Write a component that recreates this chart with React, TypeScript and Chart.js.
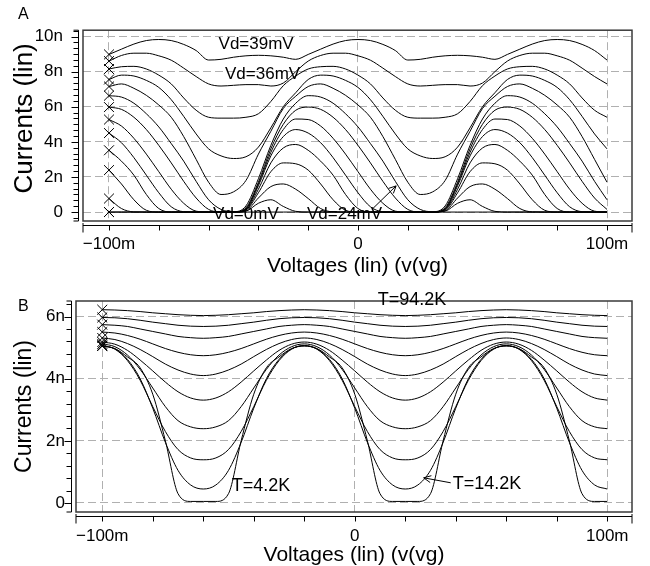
import React, { useEffect, useRef } from "react";
import { Chart, registerables } from "chart.js";

Chart.register(...registerables);

const FAMILY = '"Liberation Sans", Arial, Helvetica, sans-serif';

// Gate voltage (mV) sample points shared by every curve
const gateVoltages = [-100,-95,-90,-85,-80,-75,-70,-65,-60,-55,-50,-45,-40,-35,-30,-25,-20,-15,-10,-5,0,5,10,15,20,25,30,35,40,45,50,55,60,65,70,75,80,85,90,95,100];

// Panel A: currents (nA) for drain voltages 0..39 mV
const ia_vd0 = [0,0,0,0,0,0,0,0,0,0,0,0,0,0,0,0,0,0,0,0,0,0,0,0,0,0,0,0,0,0,0,0,0,0,0,0,0,0,0,0,0];
const ia_vd3 = [0,0,0,0,0,0,0,0, 0,0,0,0.05,0.5,0.7,0.32,0.04,0,0,0,0,0,0,0,0, 0,0,0,0.05,0.5,0.7,0.32,0.04,0,0,0,0,0,0,0,0, 0];
const ia_vd6 = [0.77,0.2,0.01,0,0,0,0,0, 0,0,0,0.08,0.8,1.45,1.6,1.3,0.77,0.2,0.01,0,0,0,0,0, 0,0,0,0.08,0.8,1.45,1.6,1.3,0.77,0.2,0.01,0,0,0,0,0, 0];
const ia_vd9 = [2.39,1.6,0.7,0.1,0,0,0,0, 0,0,0,0.12,1.1,2.3,2.8,2.75,2.39,1.6,0.7,0.1,0,0,0,0, 0,0,0,0.12,1.1,2.3,2.8,2.75,2.39,1.6,0.7,0.1,0,0,0,0, 0];
const ia_vd12 = [3.52,2.9,2.1,1.0,0.2,0,0,0, 0,0,0,0.15,1.3,2.8,3.65,3.85,3.52,2.9,2.1,1.0,0.2,0,0,0, 0,0,0,0.15,1.3,2.8,3.65,3.85,3.52,2.9,2.1,1.0,0.2,0,0,0, 0];
const ia_vd15 = [4.5,3.95,3.1,2.1,1.1,0.3,0.02,0, 0,0,0,0.18,1.5,3.2,4.3,4.7,4.5,3.95,3.1,2.1,1.1,0.3,0.02,0, 0,0,0,0.18,1.5,3.2,4.3,4.7,4.5,3.95,3.1,2.1,1.1,0.3,0.02,0, 0];
const ia_vd18 = [5.27,4.9,4.2,3.3,2.3,1.3,0.5,0.05, 0,0,0,0.2,1.6,3.4,4.7,5.3,5.27,4.9,4.2,3.3,2.3,1.3,0.5,0.05, 0,0,0,0.2,1.6,3.4,4.7,5.3,5.27,4.9,4.2,3.3,2.3,1.3,0.5,0.05, 0];
const ia_vd21 = [5.98,5.85,5.4,4.7,3.8,2.8,1.75,0.8, 0.15,0,0,0.25,1.7,3.6,5.0,5.8,5.98,5.85,5.4,4.7,3.8,2.8,1.75,0.8, 0.15,0,0,0.25,1.7,3.6,5.0,5.8,5.98,5.85,5.4,4.7,3.8,2.8,1.75,0.8, 0.15];
const ia_vd24 = [6.63,6.55,6.2,5.6,4.85,3.9,2.9,1.75, 0.7,0.15,0.02,0.35,1.9,3.8,5.3,6.2,6.63,6.55,6.2,5.6,4.85,3.9,2.9,1.75, 0.7,0.15,0.02,0.35,1.9,3.8,5.3,6.2,6.63,6.55,6.2,5.6,4.85,3.9,2.9,1.75, 0.7];
const ia_vd27 = [7.15,7.3,7.05,6.65,6.1,5.4,4.3,3.0, 1.7,1.0,1.15,1.8,3.3,4.6,5.9,6.6,7.15,7.3,7.05,6.65,6.1,5.4,4.3,3.0, 1.7,1.0,1.15,1.8,3.3,4.6,5.9,6.6,7.15,7.3,7.05,6.65,6.1,5.4,4.3,3.0, 1.7];
const ia_vd30 = [7.55,7.8,7.75,7.5,7.1,6.4,5.45,4.45, 3.6,3.2,3.05,3.15,3.7,4.8,6.0,6.8,7.55,7.8,7.75,7.5,7.1,6.4,5.45,4.45, 3.6,3.2,3.05,3.15,3.7,4.8,6.0,6.8,7.55,7.8,7.75,7.5,7.1,6.4,5.45,4.45, 3.6];
const ia_vd33 = [8.15,8.28,8.3,8.15,7.8,7.3,6.5,5.8, 5.4,5.35,5.35,5.4,5.6,6.3,7.2,7.75,8.15,8.28,8.3,8.15,7.8,7.3,6.5,5.8, 5.4,5.35,5.35,5.4,5.6,6.3,7.2,7.75,8.15,8.28,8.3,8.15,7.8,7.3,6.5,5.8, 5.4];
const ia_vd36 = [8.6,8.92,9.05,9.05,8.9,8.65,8.2,7.72, 7.3,7.18,7.22,7.26,7.26,7.18,7.35,8.0,8.6,8.92,9.05,9.05,8.9,8.65,8.2,7.72, 7.3,7.18,7.22,7.26,7.26,7.18,7.35,8.0,8.6,8.92,9.05,9.05,8.9,8.65,8.2,7.72, 7.3];
const ia_vd39 = [8.98,9.28,9.57,9.77,9.83,9.77,9.55,9.2, 8.66,8.7,8.82,8.9,8.93,8.9,8.82,8.7,8.98,9.28,9.57,9.77,9.83,9.77,9.55,9.2, 8.66,8.7,8.82,8.9,8.93,8.9,8.82,8.7,8.98,9.28,9.57,9.77,9.83,9.77,9.55,9.2, 8.66];

// Panel B: currents (nA) for temperatures 4.2..94.2 K
const ib_t4 = [5.05,4.97,4.7,4.35,3.5,2.0,0.3,0.05,0.05,0.05,0.3,2.0,3.5,4.35,4.7,4.97, 5.05,4.97,4.7,4.35,3.5,2.0,0.3,0.05,0.05,0.05,0.3,2.0,3.5,4.35,4.7,4.97, 5.05,4.97,4.7,4.35,3.5,2.0,0.3,0.05,0.05];
const ib_t14 = [5.06,4.96,4.62,4.0,3.05,1.95,1.05,0.58,0.45,0.58,1.05,1.95,3.05,4.0,4.62,4.96, 5.06,4.96,4.62,4.0,3.05,1.95,1.05,0.58,0.45,0.58,1.05,1.95,3.05,4.0,4.62,4.96, 5.06,4.96,4.62,4.0,3.05,1.95,1.05,0.58,0.45];
const ib_t24 = [5.07,4.95,4.58,3.95,3.1,2.3,1.72,1.45,1.39,1.45,1.72,2.3,3.1,3.95,4.58,4.95, 5.07,4.95,4.58,3.95,3.1,2.3,1.72,1.45,1.39,1.45,1.72,2.3,3.1,3.95,4.58,4.95, 5.07,4.95,4.58,3.95,3.1,2.3,1.72,1.45,1.39];
const ib_t34 = [5.12,5.03,4.76,4.3,3.7,3.1,2.65,2.45,2.39,2.45,2.65,3.1,3.7,4.3,4.76,5.03, 5.12,5.03,4.76,4.3,3.7,3.1,2.65,2.45,2.39,2.45,2.65,3.1,3.7,4.3,4.76,5.03, 5.12,5.03,4.76,4.3,3.7,3.1,2.65,2.45,2.39];
const ib_t44 = [5.18,5.11,4.91,4.6,4.25,3.89,3.58,3.38,3.31,3.38,3.58,3.89,4.25,4.6,4.91,5.11, 5.18,5.11,4.91,4.6,4.25,3.89,3.58,3.38,3.31,3.38,3.58,3.89,4.25,4.6,4.91,5.11, 5.18,5.11,4.91,4.6,4.25,3.89,3.58,3.38,3.31];
const ib_t54 = [5.31,5.26,5.13,4.94,4.71,4.47,4.28,4.15,4.1,4.15,4.28,4.47,4.71,4.94,5.13,5.26, 5.31,5.26,5.13,4.94,4.71,4.47,4.28,4.15,4.1,4.15,4.28,4.47,4.71,4.94,5.13,5.26, 5.31,5.26,5.13,4.94,4.71,4.47,4.28,4.15,4.1];
const ib_t64 = [5.5,5.47,5.39,5.27,5.12,4.97,4.85,4.77,4.74,4.77,4.85,4.97,5.12,5.27,5.39,5.47, 5.5,5.47,5.39,5.27,5.12,4.97,4.85,4.77,4.74,4.77,4.85,4.97,5.12,5.27,5.39,5.47, 5.5,5.47,5.39,5.27,5.12,4.97,4.85,4.77,4.74];
const ib_t74 = [5.74,5.72,5.68,5.6,5.52,5.44,5.36,5.32,5.3,5.32,5.36,5.44,5.52,5.6,5.68,5.72, 5.74,5.72,5.68,5.6,5.52,5.44,5.36,5.32,5.3,5.32,5.36,5.44,5.52,5.6,5.68,5.72, 5.74,5.72,5.68,5.6,5.52,5.44,5.36,5.32,5.3];
const ib_t84 = [5.97,5.96,5.93,5.88,5.82,5.77,5.72,5.69,5.68,5.69,5.72,5.77,5.82,5.88,5.93,5.96, 5.97,5.96,5.93,5.88,5.82,5.77,5.72,5.69,5.68,5.69,5.72,5.77,5.82,5.88,5.93,5.96, 5.97,5.96,5.93,5.88,5.82,5.77,5.72,5.69,5.68];
const ib_t94 = [6.22,6.21,6.19,6.16,6.12,6.09,6.06,6.04,6.03,6.04,6.06,6.09,6.12,6.16,6.19,6.21, 6.22,6.21,6.19,6.16,6.12,6.09,6.06,6.04,6.03,6.04,6.06,6.09,6.12,6.16,6.19,6.21, 6.22,6.21,6.19,6.16,6.12,6.09,6.06,6.04,6.03];

const seriesA = [ia_vd0, ia_vd3, ia_vd6, ia_vd9, ia_vd12, ia_vd15, ia_vd18, ia_vd21, ia_vd24, ia_vd27, ia_vd30, ia_vd33, ia_vd36, ia_vd39];
const seriesB = [ib_t4, ib_t14, ib_t24, ib_t34, ib_t44, ib_t54, ib_t64, ib_t74, ib_t84, ib_t94];

const xTickValues = [-100, 0, 100];
const xMinorTickValues = [-100, -80, -60, -40, -20, 0, 20, 40, 60, 80, 100];
const yTickValuesA = [0, 2, 4, 6, 8, 10];
const yTickValuesB = [0, 2, 4, 6];

const notesA = [
  { text: "Vd=39mV", x: -56, y: 9.55 },
  { text: "Vd=36mV", x: -53.4, y: 7.85 },
  { text: "Vd=0mV", x: -58.2, y: -0.15 },
  { text: "Vd=24mV", x: -20.5, y: -0.15 },
];
const arrowsA = [{ x1: 5.6, y1: 0.15, x2: 15.3, y2: 1.49 }];
const notesB = [
  { text: "T=94.2K", x: 9.1, y: 6.54 },
  { text: "T=4.2K", x: -48.7, y: 0.56 },
  { text: "T=14.2K", x: 38.8, y: 0.62 },
];
const arrowsB = [{ x1: 38.0, y1: 0.65, x2: 27.3, y2: 0.81 }];

function fmtX(v: number) {
  if (v === 0) return "0";
  return (v < 0 ? "\u2212" + Math.abs(v) : String(v)) + "m";
}
function fmtY(v: number) {
  return v === 0 ? "0" : v + "n";
}

function makeDecor(p: any) {
  return {
    id: "decor",
    afterDraw(chart: any) {
      const { ctx, chartArea: ca } = chart;
      const xs = chart.scales.x;
      const ys = chart.scales.y;
      const seg = (x1: number, y1: number, x2: number, y2: number) => {
        ctx.beginPath();
        ctx.moveTo(x1, y1);
        ctx.lineTo(x2, y2);
        ctx.stroke();
      };
      ctx.save();
      ctx.strokeStyle = "#3a3a3a";
      ctx.lineWidth = 1.5;
      ctx.strokeRect(ca.left, ca.top, ca.right - ca.left, ca.bottom - ca.top);

      ctx.strokeStyle = "#000";
      ctx.lineWidth = 1;
      // offset x axis
      const axY = Math.round(ca.bottom) + 4.5;
      seg(ca.left, axY, ca.right, axY);
      for (const v of xMinorTickValues) {
        const px = Math.round(xs.getPixelForValue(v)) + 0.5;
        seg(px, axY, px, axY + 5);
      }
      seg(ca.left, ca.bottom + 2, ca.left, axY + 7);
      seg(ca.right, ca.bottom + 2, ca.right, axY + 7);
      // offset y axis
      const axX = Math.round(ca.left) - 4.5;
      seg(axX, ca.top, axX, ca.bottom);
      const step = p.minorY;
      const k0 = Math.ceil(ys.min / step - 1e-6);
      for (let k = k0; k * step <= ys.max + 1e-6; k++) {
        const v = k * step;
        const py = Math.round(ys.getPixelForValue(v)) + 0.5;
        const major = Math.abs(v / 2 - Math.round(v / 2)) < 1e-6;
        seg(axX - (major ? 7 : 5), py, axX, py);
      }
      seg(axX - 5, ca.top, axX, ca.top);
      seg(axX - 5, ca.bottom, axX, ca.bottom);

      // annotations
      ctx.fillStyle = "#000";
      ctx.font = `${p.noteSize}px ${FAMILY}`;
      ctx.textAlign = "left";
      ctx.textBaseline = "middle";
      for (const n of p.notes) {
        ctx.fillText(n.text, xs.getPixelForValue(n.x), ys.getPixelForValue(n.y));
      }
      for (const a of p.arrows) {
        const x1 = xs.getPixelForValue(a.x1), y1 = ys.getPixelForValue(a.y1);
        const x2 = xs.getPixelForValue(a.x2), y2 = ys.getPixelForValue(a.y2);
        seg(x1, y1, x2, y2);
        const ang = Math.atan2(y2 - y1, x2 - x1);
        const L = 8;
        seg(x2, y2, x2 - L * Math.cos(ang - 0.45), y2 - L * Math.sin(ang - 0.45));
        seg(x2, y2, x2 - L * Math.cos(ang + 0.45), y2 - L * Math.sin(ang + 0.45));
      }
      ctx.font = `16px ${FAMILY}`;
      ctx.fillText(p.panelLabel, p.panelLabelX, p.panelLabelY);
      ctx.restore();
    },
  };
}

function makeConfig(p: any) {
  const datasets = p.series.map((s: number[]) => ({
    data: gateVoltages.map((x, i) => ({ x, y: s[i] })),
    borderColor: "#000",
    borderWidth: 1,
    pointStyle: "crossRot",
    pointRadius: (c: any) => (c.dataIndex === 0 ? 7 : 0),
    pointBorderColor: "#000",
    pointBorderWidth: 1,
    pointBackgroundColor: "rgba(0,0,0,0)",
    cubicInterpolationMode: "monotone",
    fill: false,
  }));
  return {
    type: "line",
    data: { datasets },
    options: {
      responsive: false,
      animation: false,
      devicePixelRatio: 1,
      events: [],
      layout: { padding: { left: 0, right: 18, top: p.padTop, bottom: 0 } },
      plugins: { legend: { display: false }, tooltip: { enabled: false } },
      scales: {
        x: {
          type: "linear",
          min: p.xMin,
          max: p.xMax,
          afterBuildTicks: (s: any) => {
            s.ticks = xTickValues.map((v) => ({ value: v }));
          },
          afterFit: (s: any) => {
            s.height = p.xHeight;
          },
          grid: { color: "#b0b0b0", lineWidth: 1, drawTicks: false },
          border: { display: false, dash: [8, 4] },
          ticks: {
            callback: (v: number) => fmtX(v),
            color: "#000",
            font: { family: FAMILY, size: 17, lineHeight: 1.2 },
            padding: p.xTickPad,
            maxRotation: 0,
            autoSkip: false,
          },
          title: {
            display: true,
            text: "Voltages (lin) (v(vg)",
            color: "#000",
            font: { family: FAMILY, size: 21, lineHeight: 1 },
            padding: { top: 0, bottom: p.xTitlePad },
          },
        },
        y: {
          type: "linear",
          min: p.yMin,
          max: p.yMax,
          afterBuildTicks: (s: any) => {
            s.ticks = p.yTicks.map((v: number) => ({ value: v }));
          },
          afterFit: (s: any) => {
            s.width = p.yWidth;
          },
          grid: { color: "#b0b0b0", lineWidth: 1, drawTicks: false },
          border: { display: false, dash: [8, 4] },
          ticks: {
            callback: (v: number) => fmtY(v),
            color: "#000",
            font: { family: FAMILY, size: 17, lineHeight: 1.2 },
            padding: p.yTickPad,
            autoSkip: false,
          },
          title: {
            display: true,
            text: p.yTitle,
            color: "#000",
            font: { family: FAMILY, size: p.yTitleSize, lineHeight: 1 },
            padding: { top: p.yTitlePad, bottom: 0 },
          },
        },
      },
    },
    plugins: [makeDecor(p)],
  };
}

export default function App() {
  const refA = useRef<HTMLCanvasElement>(null);
  const refB = useRef<HTMLCanvasElement>(null);
  useEffect(() => {
    const a = new Chart(
      refA.current as HTMLCanvasElement,
      makeConfig({
        series: seriesA,
        xMin: -110.44,
        xMax: 110.04,
        yMin: -0.51,
        yMax: 10.36,
        yTicks: yTickValuesA,
        yWidth: 83,
        xHeight: 58,
        padTop: 9,
        yTickPad: 20,
        xTickPad: 13,
        xTitlePad: 2.5,
        yTitle: "  Currents (lin)",
        yTitleSize: 26,
        yTitlePad: 12,
        minorY: 1 / 3,
        notes: notesA,
        arrows: arrowsA,
        noteSize: 17,
        panelLabel: "A",
        panelLabelX: 18,
        panelLabelY: 15,
      }) as any
    );
    const b = new Chart(
      refB.current as HTMLCanvasElement,
      makeConfig({
        series: seriesB,
        xMin: -110.4,
        xMax: 109.8,
        yMin: -0.29,
        yMax: 6.5,
        yTicks: yTickValuesB,
        yWidth: 76,
        xHeight: 54,
        padTop: 22,
        yTickPad: 11,
        xTickPad: 14.5,
        xTitlePad: 0,
        yTitle: "Currents (lin)",
        yTitleSize: 23,
        yTitlePad: 13.5,
        minorY: 0.4,
        notes: notesB,
        arrows: arrowsB,
        noteSize: 18,
        panelLabel: "B",
        panelLabelX: 18,
        panelLabelY: 28,
      }) as any
    );
    return () => {
      a.destroy();
      b.destroy();
    };
  }, []);
  return (
    <div style={{ position: "absolute", left: 0, top: 0, width: 650, height: 566, background: "#fff" }}>
      <canvas ref={refA} width={650} height={279} style={{ position: "absolute", left: 0, top: 0 }} />
      <canvas ref={refB} width={650} height={287} style={{ position: "absolute", left: 0, top: 279 }} />
    </div>
  );
}
